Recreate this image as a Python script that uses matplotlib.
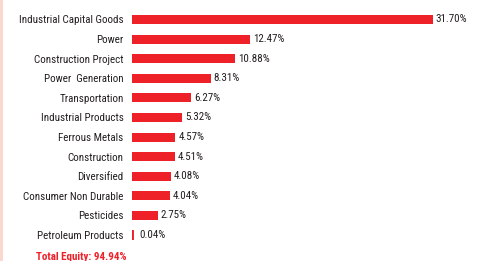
import matplotlib
matplotlib.use("Agg")
import matplotlib.pyplot as plt
import matplotlib.patches as mpatches

# ── data ──────────────────────────────────────────────────────────────────────
sectors = [
    "Industrial Capital Goods", "Power", "Construction Project",
    "Power  Generation", "Transportation", "Industrial Products",
    "Ferrous Metals", "Construction", "Diversified",
    "Consumer Non Durable", "Pesticides", "Petroleum Products",
]
weights = [31.70, 12.47, 10.88, 8.31, 6.27, 5.32, 4.57, 4.51, 4.08, 4.04, 2.75, 0.04]
total_label = "Total Equity: 94.94%"

# ── style ─────────────────────────────────────────────────────────────────────
BAR_C = "#EE2129"
TEXT_C = "#231F20"
plt.rcParams["font.family"] = ["Roboto Condensed", "Archivo Narrow", "DejaVu Sans"]
FS = 7.9

W, H = 482, 261
fig = plt.figure(figsize=(W / 100, H / 100), dpi=100)
fig.patch.set_facecolor("white")

# thin pink strip on the left edge
fig.patches.append(mpatches.Rectangle((0, 0), 2.5 / W, 1, transform=fig.transFigure,
                                      facecolor="#F9D9CF", edgecolor="none"))

left, right = 132 / W, 1.0
top_px, bot_px = 9.7, 244.8
ax = fig.add_axes([left, 1 - bot_px / H, right - left, (bot_px - top_px) / H])

y = list(range(len(sectors)))
# very small shares get an outline so they stay visible, as in the source
lws = [2.8 if v < 0.5 else 0 for v in weights]
ax.barh(y, weights, height=0.46, color=BAR_C, edgecolor=BAR_C, linewidth=lws)
ax.set_ylim(len(sectors) - 0.5, -0.5)
ax.set_xlim(0, 31.70 * 350 / 300.7)

for yi, v, lw in zip(y, weights, lws):
    ax.text(v + 0.3 + lw * 0.15, yi, f"{v:.2f}%", va="center", ha="left",
            fontsize=FS, color=TEXT_C)

ax.set_yticks(y)
ax.set_yticklabels(sectors, fontsize=FS, color=TEXT_C)
ax.tick_params(axis="y", length=0, pad=6)
ax.set_xticks([])
for s in ax.spines.values():
    s.set_visible(False)

fig.text(126 / W, 1 - 256.5 / H, total_label, ha="right", va="center",
         fontsize=FS, color=BAR_C, fontweight="bold")

fig.savefig("out.png", dpi=100, facecolor="white")
